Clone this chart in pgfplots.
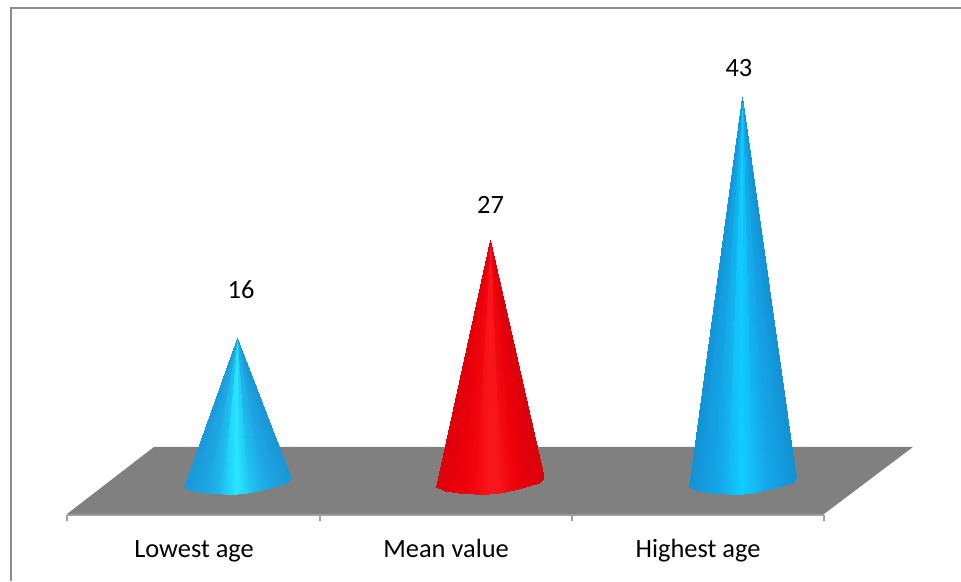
\documentclass[border=0pt]{standalone}
\usepackage{fontspec}
\setmainfont{Carlito}
\usepackage{pgfplots}
\pgfplotsset{compat=1.18}
\definecolor{floorgray}{RGB}{128,128,128}
\definecolor{framegray}{RGB}{140,140,140}
\definecolor{axisgray}{RGB}{160,160,160}
\pgfplotsset{
  colormap={coneblueA}{rgb255(0cm)=(25,150,215); rgb255(4cm)=(30,165,225); rgb255(6cm)=(30,178,232); rgb255(8cm)=(32,205,245); rgb255(10cm)=(40,232,255); rgb255(12cm)=(32,205,245); rgb255(14cm)=(30,180,234); rgb255(16cm)=(30,166,226); rgb255(20cm)=(25,150,215)},
  colormap={coneblueB}{rgb255(0cm)=(18,145,212); rgb255(4cm)=(20,160,226); rgb255(6cm)=(20,170,234); rgb255(8cm)=(18,188,246); rgb255(10cm)=(15,205,255); rgb255(12cm)=(18,190,248); rgb255(14cm)=(20,172,236); rgb255(16cm)=(20,162,228); rgb255(20cm)=(18,146,214)},
  colormap={conered}{rgb255(0cm)=(220,0,10); rgb255(4cm)=(234,0,10); rgb255(6cm)=(238,2,12); rgb255(8cm)=(244,10,18); rgb255(10cm)=(250,22,26); rgb255(12cm)=(248,20,24); rgb255(14cm)=(240,6,14); rgb255(16cm)=(234,0,10); rgb255(20cm)=(218,0,10)},
  cone/.style={patch, patch type=triangle, shader=interp, point meta=explicit}
}
\newcommand{\lbl}{\fontsize{26.4}{30}\selectfont}
\begin{document}
\begin{tikzpicture}
\path[use as bounding box] (-67pt,-66pt) rectangle (894pt,515pt);
\begin{axis}[
  scale only axis,
  width=757pt, height=507pt,
  xmin=-0.6733, xmax=2.3248,
  ymin=-3.83, ymax=52.97,
  clip=false,
  axis x line*=bottom,
  axis y line=none,
  axis line style={axisgray, line width=1.5pt, -},
  xtick={-0.170,0.828,1.826},
  xticklabels={Lowest age, Mean value, Highest age},
  minor xtick={-0.6733,0.3287,1.3267,2.3248},
  tick align=outside,
  major tick length=0pt,
  minor tick length=5.5pt,
  minor tick style={axisgray, line width=1.3pt},
  xticklabel style={font=\lbl, text=black, text height=18pt, text depth=5pt, yshift=-21pt},
  point meta min=-1, point meta max=1,
]
% frame
\addplot[framegray, line width=2pt, line join=miter] coordinates {(-0.895,-11.23) (-0.895,52.97) (2.868,52.97)};
% floor
\addplot[draw=none, fill=floorgray] coordinates {(-0.6733,-3.72) (2.3248,-3.72) (2.677,3.79) (-0.329,3.79)} --cycle;
% cones
\addplot[cone, colormap name=coneblueA] coordinates {
(0,16) [1] (0.214,0.31) [1] (0.198,-0.19) [0.93]
(0,16) [0.93] (0.198,-0.19) [0.93] (0.158,-0.58) [0.74]
(0,16) [0.74] (0.158,-0.58) [0.74] (0.099,-1.03) [0.46]
(0,16) [0.46] (0.099,-1.03) [0.46] (0.040,-1.37) [0.19]
(0,16) [0.19] (0.040,-1.37) [0.19] (0,-1.48) [0]
(0,16) [0] (0,-1.48) [0] (-0.059,-1.53) [-0.28]
(0,16) [-0.28] (-0.059,-1.53) [-0.28] (-0.119,-1.42) [-0.56]
(0,16) [-0.56] (-0.119,-1.42) [-0.56] (-0.178,-1.14) [-0.83]
(0,16) [-0.83] (-0.178,-1.14) [-0.83] (-0.210,-0.69) [-0.98]
};
\addplot[cone, colormap name=conered] coordinates {
(1.002,27) [1] (1.214,0.31) [1] (1.198,-0.19) [0.93]
(1.002,27) [0.93] (1.198,-0.19) [0.93] (1.158,-0.58) [0.74]
(1.002,27) [0.74] (1.158,-0.58) [0.74] (1.099,-1.03) [0.46]
(1.002,27) [0.46] (1.099,-1.03) [0.46] (1.040,-1.37) [0.19]
(1.002,27) [0.19] (1.040,-1.37) [0.19] (1,-1.48) [0]
(1.002,27) [0] (1,-1.48) [0] (0.941,-1.53) [-0.28]
(1.002,27) [-0.28] (0.941,-1.53) [-0.28] (0.881,-1.42) [-0.56]
(1.002,27) [-0.56] (0.881,-1.42) [-0.56] (0.822,-1.14) [-0.83]
(1.002,27) [-0.83] (0.822,-1.14) [-0.83] (0.790,-0.69) [-0.98]
};
\addplot[cone, colormap name=coneblueB] coordinates {
(2,43) [1] (2.214,0.31) [1] (2.198,-0.19) [0.93]
(2,43) [0.93] (2.198,-0.19) [0.93] (2.158,-0.58) [0.74]
(2,43) [0.74] (2.158,-0.58) [0.74] (2.099,-1.03) [0.46]
(2,43) [0.46] (2.099,-1.03) [0.46] (2.040,-1.37) [0.19]
(2,43) [0.19] (2.040,-1.37) [0.19] (2,-1.48) [0]
(2,43) [0] (2,-1.48) [0] (1.941,-1.53) [-0.28]
(2,43) [-0.28] (1.941,-1.53) [-0.28] (1.881,-1.42) [-0.56]
(2,43) [-0.56] (1.881,-1.42) [-0.56] (1.822,-1.14) [-0.83]
(2,43) [-0.83] (1.822,-1.14) [-0.83] (1.790,-0.69) [-0.98]
};
% value labels
\node[font=\lbl] at (axis cs:0.016,21.4) {16};
\node[font=\lbl] at (axis cs:1.004,30.9) {27};
\node[font=\lbl] at (axis cs:1.988,46.3) {43};
\end{axis}
\end{tikzpicture}
\end{document}
